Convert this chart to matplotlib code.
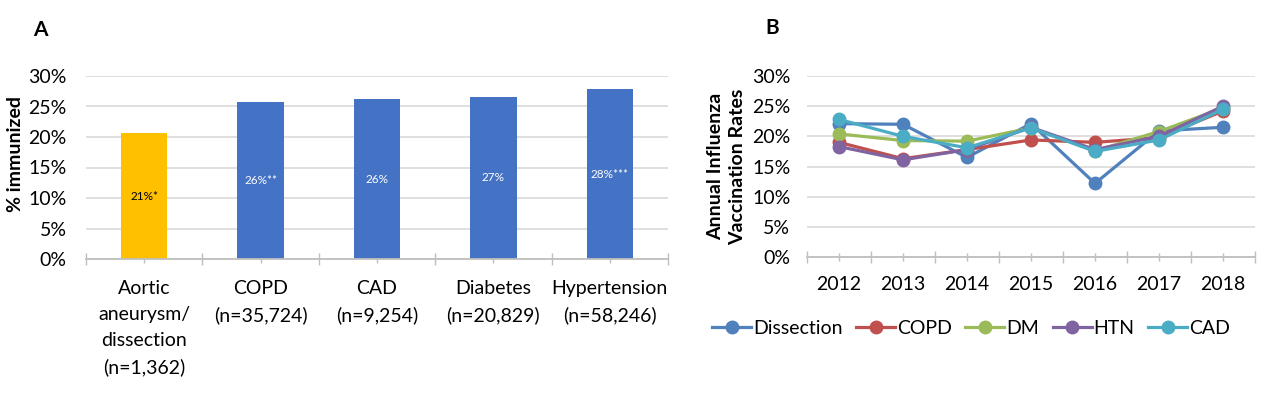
import numpy as np
import matplotlib.pyplot as plt
from matplotlib.ticker import PercentFormatter, MultipleLocator, FixedLocator

plt.rcParams['font.family'] = ['Lato', 'DejaVu Sans']

# ---- panel A data
categories = ["Aortic\naneurysm/\ndissection\n(n=1,362)", "COPD\n(n=35,724)",
              "CAD\n(n=9,254)", "Diabetes\n(n=20,829)", "Hypertension\n(n=58,246)"]
immunized = [0.206, 0.257, 0.262, 0.266, 0.278]
bar_labels = ["21%*", "26%**", "26%", "27%", "28%***"]
bar_colors = ["#FFC000", "#4472C4", "#4472C4", "#4472C4", "#4472C4"]
label_colors = ["black", "white", "white", "white", "white"]

# ---- panel B data
years = [2012, 2013, 2014, 2015, 2016, 2017, 2018]
dissection = [0.221, 0.220, 0.165, 0.221, 0.122, 0.209, 0.215]
copd = [0.190, 0.163, 0.178, 0.194, 0.190, 0.198, 0.242]
dm = [0.204, 0.193, 0.192, 0.214, 0.176, 0.208, 0.247]
htn = [0.183, 0.161, 0.178, 0.215, 0.178, 0.200, 0.250]
cad = [0.228, 0.200, 0.181, 0.214, 0.175, 0.194, 0.245]
series = [("Dissection", dissection, "#4F81BD"), ("COPD", copd, "#C0504D"),
          ("DM", dm, "#9BBB59"), ("HTN", htn, "#8064A2"), ("CAD", cad, "#4BACC6")]

grid_c = "#D9D9D9"
axis_c = "#BFBFBF"
fs = 14

fig = plt.figure(figsize=(12.82, 3.94), dpi=100)


def style_axis(ax, n):
    for s in ["top", "right", "left"]:
        ax.spines[s].set_visible(False)
    ax.spines["bottom"].set_color(axis_c)
    ax.spines["bottom"].set_linewidth(1.3)
    ax.set_xlim(-0.5, n - 0.5)
    ax.set_ylim(0, 0.30)
    ax.yaxis.set_major_locator(MultipleLocator(0.05))
    ax.yaxis.set_major_formatter(PercentFormatter(1.0, decimals=0))
    ax.grid(axis="y", color=grid_c, linewidth=1.2)
    ax.set_axisbelow(True)
    ax.xaxis.set_minor_locator(FixedLocator(np.arange(-0.5, n, 1.0)))
    ax.tick_params(axis="y", length=0, labelsize=fs)
    ax.tick_params(axis="x", which="major", direction="inout", length=6,
                   color=axis_c, width=1, labelsize=fs)
    ax.tick_params(axis="x", which="minor", direction="inout", length=9,
                   color=axis_c, width=1)


# ---- panel A
axA = fig.add_axes([86 / 1282, 1 - 259 / 394, 582 / 1282, 183 / 394])
x = np.arange(len(categories))
bars = axA.bar(x, immunized, width=0.4, color=bar_colors)
style_axis(axA, len(categories))
axA.set_xticks(x)
axA.set_xticklabels(categories, linespacing=1.65)
axA.tick_params(axis="y", pad=14)
axA.tick_params(axis="x", which="major", pad=12)
for b, lab, c in zip(bars, bar_labels, label_colors):
    axA.text(b.get_x() + b.get_width() / 2, b.get_height() / 2, lab,
             ha="center", va="center", fontsize=8.5, color=c)
fig.text(16 / 1282, 1 - 154 / 394, "% immunized", rotation=90, ha="center",
         va="center", fontsize=fs, fontweight="bold")
fig.text(40 / 1282, 1 - 30 / 394, "A", ha="center", va="center",
         fontsize=15, fontweight="bold")

# ---- panel B
axB = fig.add_axes([807 / 1282, 1 - 257 / 394, 448 / 1282, 181 / 394])
xb = np.arange(len(years))
for name, vals, col in series:
    axB.plot(xb, vals, color=col, linewidth=2.3, marker="o", markersize=9,
             label=name)
style_axis(axB, len(years))
axB.set_xticks(xb)
axB.set_xticklabels([str(y) for y in years])
axB.tick_params(axis="y", pad=12)
axB.tick_params(axis="x", which="major", pad=11)
axB.set_ylabel("Annual Influenza\nVaccination Rates", fontsize=fs,
               fontweight="bold", labelpad=4, linespacing=1.35)
fig.text(772 / 1282, 1 - 28 / 394, "B", ha="center", va="center",
         fontsize=15, fontweight="bold")
fig.legend(loc="center", bbox_to_anchor=(971 / 1282, 1 - 328 / 394), ncol=5,
           frameon=False, fontsize=fs, handlelength=2.0, handletextpad=0.1,
           columnspacing=0.7)

fig.savefig("out.png", dpi=100)
